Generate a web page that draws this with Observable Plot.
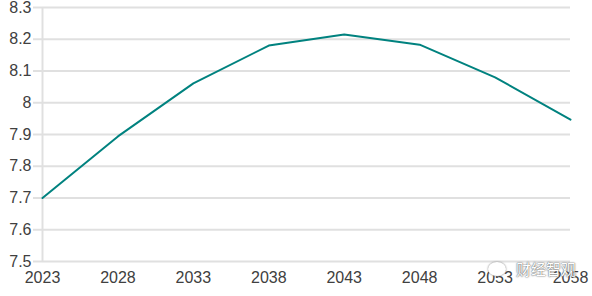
<!DOCTYPE html>
<html>
<head>
<meta charset="utf-8">
<script src="https://cdn.jsdelivr.net/npm/d3@7"></script>
<script src="https://cdn.jsdelivr.net/npm/@observablehq/plot@0.6"></script>
<style>
html,body{margin:0;padding:0;background:#fff;}
#chart{position:relative;width:592px;height:296px;overflow:hidden;}
#wm{position:absolute;left:488px;top:258px;font-family:"Noto Sans CJK SC",sans-serif;font-size:15px;color:#fff;text-shadow:0 0 2px #666,0 0 1px #555;white-space:nowrap;}
#wm .ic{display:inline-block;width:18px;height:14px;border-radius:50%;background:#fff;box-shadow:0 0 2px #777;margin-right:10px;vertical-align:-1px;}
</style>
</head>
<body>
<div id="chart"><div id="wm"><span class="ic"></span>财经智观</div></div>
<script>
const years = [2023, 2028, 2033, 2038, 2043, 2048, 2053, 2058];
const values = [7.70, 7.894, 8.061, 8.180, 8.215, 8.183, 8.080, 7.947];
const yTicks = [7.5, 7.6, 7.7, 7.8, 7.9, 8.0, 8.1, 8.2, 8.3];

const data = years.map((y, i) => ({year: y, value: values[i]}));

const chart = Plot.plot({
  width: 592,
  height: 296,
  marginLeft: 42,
  marginRight: 22,
  marginTop: 7,
  marginBottom: 35,
  style: {fontFamily: "'Liberation Sans', Arial, sans-serif", fontSize: "16px", color: "#404040", background: "#fff"},
  x: {type: "linear", domain: [2023, 2058], ticks: years, tickFormat: d => String(d), label: null, tickSize: 0, tickPadding: 10},
  y: {domain: [7.5, 8.3], ticks: yTicks, tickFormat: d => String(+d.toFixed(1)), label: null},
  marks: [
    Plot.gridY(yTicks, {stroke: "#e0e0e0", strokeWidth: 2, strokeOpacity: 1}),
    Plot.ruleX([2023], {stroke: "#e0e0e0", strokeWidth: 2}),
    Plot.axisY(yTicks, {tickSize: 9, tickPadding: 2, stroke: "#e0e0e0", strokeWidth: 2, strokeOpacity: 1, tickFormat: d => String(+d.toFixed(1)), label: null, fill: "#404040"}),
    Plot.axisX(years, {tickSize: 0, tickPadding: 10, tickFormat: d => String(d), label: null, fill: "#404040"}),
    Plot.line(data, {x: "year", y: "value", stroke: "#00827f", strokeWidth: 2})
  ]
});
document.getElementById("chart").prepend(chart);
</script>
</body>
</html>
